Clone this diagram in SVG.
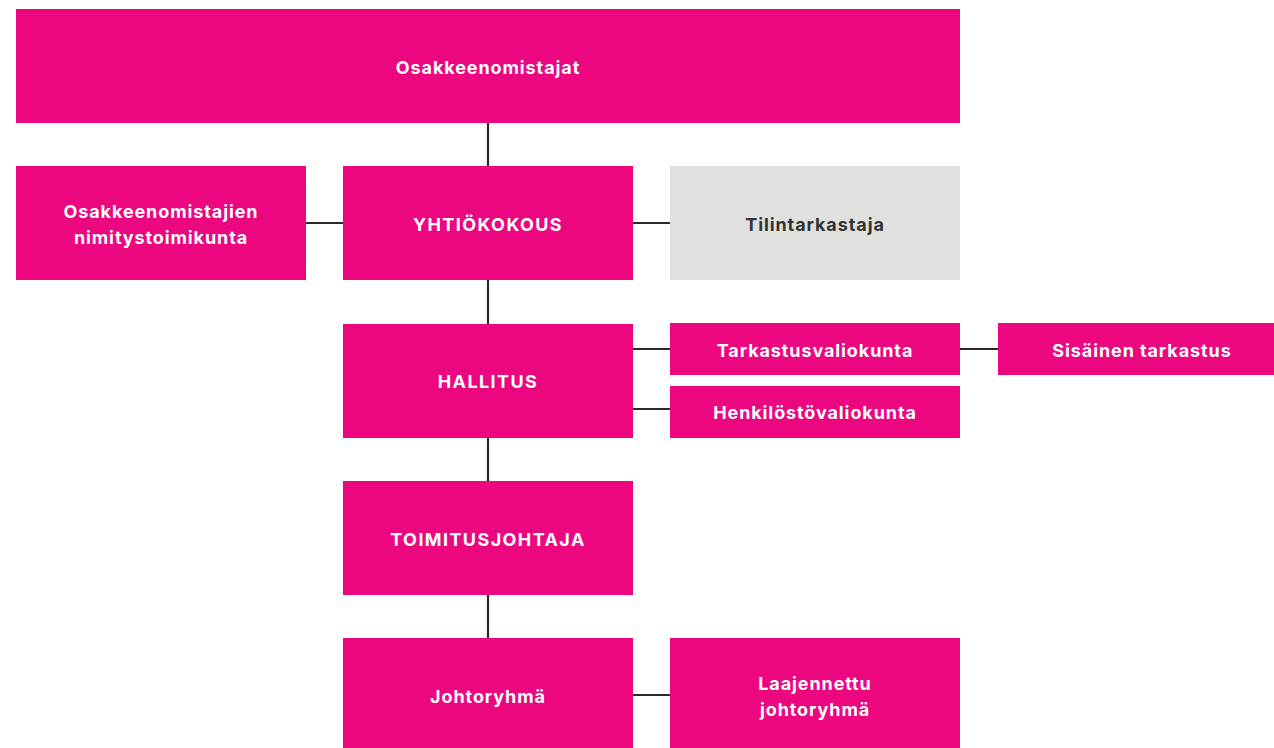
<svg xmlns="http://www.w3.org/2000/svg" width="1274" height="748" viewBox="0 0 1274 748">
<style>
.n{fill:#ec0680}
.g{fill:#e0e1de}
.t{font-family:Inter,"Liberation Sans",sans-serif;font-weight:700;font-size:18px;fill:#fff;text-anchor:middle;letter-spacing:0.9px}
.u{letter-spacing:1.4px}
.d{fill:#333}
.c line{stroke:#2a2a2a;stroke-width:2.2}
</style>
<rect width="1274" height="748" fill="#fff"/>
<g class="c" id="connectors">
<line x1="488" y1="123" x2="488" y2="166"/>
<line x1="306" y1="223" x2="343" y2="223"/>
<line x1="633" y1="223" x2="670" y2="223"/>
<line x1="488" y1="280" x2="488" y2="324"/>
<line x1="633" y1="349" x2="670" y2="349"/>
<line x1="960" y1="349" x2="998" y2="349"/>
<line x1="633" y1="409" x2="670" y2="409"/>
<line x1="488" y1="438" x2="488" y2="481"/>
<line x1="488" y1="595" x2="488" y2="638"/>
<line x1="633" y1="695" x2="670" y2="695"/>
</g>
<g id="osakkeenomistajat"><rect class="n" x="16" y="9" width="944" height="114"/><text class="t" x="488" y="74">Osakkeenomistajat</text></g>
<g id="nimitystoimikunta"><rect class="n" x="16" y="166" width="290" height="114"/><text class="t" x="161" y="218">Osakkeenomistajien</text><text class="t" x="161" y="244">nimitystoimikunta</text></g>
<g id="yhtiokokous"><rect class="n" x="343" y="166" width="290" height="114"/><text class="t u" x="488" y="231">YHTIÖKOKOUS</text></g>
<g id="tilintarkastaja"><rect class="g" x="670" y="166" width="290" height="114"/><text class="t d" x="815" y="231">Tilintarkastaja</text></g>
<g id="hallitus"><rect class="n" x="343" y="324" width="290" height="114"/><text class="t u" x="488" y="388">HALLITUS</text></g>
<g id="tarkastusvaliokunta"><rect class="n" x="670" y="323" width="290" height="52"/><text class="t" x="815" y="357">Tarkastusvaliokunta</text></g>
<g id="sisainen"><rect class="n" x="998" y="323" width="276" height="52"/><text class="t" x="1142" y="357">Sisäinen tarkastus</text></g>
<g id="henkilosto"><rect class="n" x="670" y="386" width="290" height="52"/><text class="t" x="815" y="419">Henkilöstövaliokunta</text></g>
<g id="toimitusjohtaja"><rect class="n" x="343" y="481" width="290" height="114"/><text class="t u" x="488" y="546">TOIMITUSJOHTAJA</text></g>
<g id="johtoryhma"><rect class="n" x="343" y="638" width="290" height="110"/><text class="t" x="488" y="703">Johtoryhmä</text></g>
<g id="laajennettu"><rect class="n" x="670" y="638" width="290" height="110"/><text class="t" x="815" y="690">Laajennettu</text><text class="t" x="815" y="716">johtoryhmä</text></g>
</svg>
